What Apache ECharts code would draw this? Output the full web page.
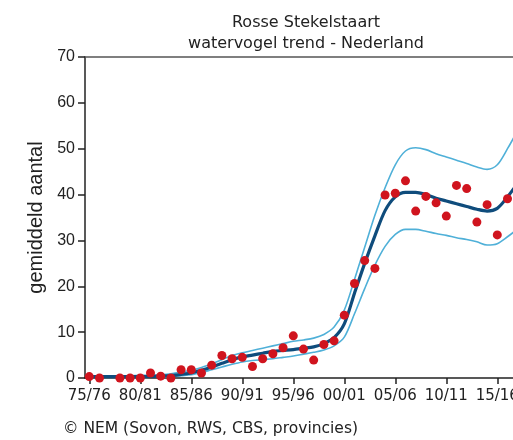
<!DOCTYPE html>
<html>
<head>
<meta charset="utf-8">
<script src="https://cdn.jsdelivr.net/npm/echarts@6/dist/echarts.min.js"></script>
<style>html,body{margin:0;padding:0;background:#fff}#c{width:513px;height:440px}</style>
</head>
<body>
<div id="c"></div>
<script>
// season index 0 = 75/76
const seasonStart = 1975;
const tickLabels = ["75/76","80/81","85/86","90/91","95/96","00/01","05/06","10/11","15/16"];
const tickIndex = [0,5,10,15,20,25,30,35,40];
const observed = [0.3,0,null,0,0,0,1.1,0.4,0,1.8,1.8,1.1,2.8,4.9,4.2,4.5,2.5,4.2,5.3,6.6,9.2,6.3,3.9,7.3,8.1,13.7,20.6,25.6,23.9,39.9,40.3,43.0,36.4,39.6,38.2,35.3,42.0,41.3,34.0,37.8,31.2,39.1];
const trend = [0.3,0.3,0.3,0.3,0.3,0.3,0.35,0.4,0.5,0.8,1.1,1.7,2.4,3.2,4.0,4.6,5.0,5.4,5.8,6.0,6.2,6.5,6.8,7.5,8.8,11.8,18.5,25.0,31.0,36.5,39.5,40.5,40.5,40.0,39.2,38.6,38.0,37.4,36.8,36.4,37.0,39.5,42.5];
const upper = [0.5,0.5,0.5,0.5,0.5,0.6,0.6,0.7,0.9,1.3,1.7,2.3,3.1,4.0,4.9,5.5,6.0,6.5,7.0,7.5,8.0,8.3,8.7,9.5,11.1,14.8,21.5,28.5,35.5,41.5,46.5,49.5,50.2,49.8,48.9,48.2,47.5,46.8,46.0,45.5,46.5,50.0,54.0];
const lower = [0.1,0.1,0.1,0.1,0.1,0.1,0.15,0.2,0.3,0.5,0.7,1.2,1.8,2.4,3.0,3.5,3.8,4.0,4.2,4.5,4.8,5.2,5.6,6.1,7.0,8.9,14.0,19.5,24.6,28.7,31.3,32.4,32.4,32.0,31.5,31.1,30.6,30.2,29.7,29.0,29.3,30.8,32.5];

const toXY = arr => arr.map((v,i) => [i, v]);
const pts = observed.map((v,i) => v === null ? null : [i, v]).filter(p => p);

const chart = echarts.init(document.getElementById('c'), null, {renderer:'canvas'});
const txt = '#222';
chart.setOption({
  animation:false,
  title:[
    {text:'Rosse Stekelstaart', left:301, top:10, textAlign:'center',
     textStyle:{fontFamily:'DejaVu Sans', fontSize:16, fontWeight:'normal', color:txt}},
    {text:'watervogel trend - Nederland', left:301, top:31, textAlign:'center',
     textStyle:{fontFamily:'DejaVu Sans', fontSize:16, fontWeight:'normal', color:txt}}
  ],
  grid:{left:85, right:0, top:57, bottom:62, outerBoundsMode:'none', containLabel:false},
  xAxis:[{
    type:'value', min:-0.42, max:41.54,
    splitLine:{show:false},
    axisLine:{onZero:false, lineStyle:{color:'#222', width:1.5}},
    axisTick:{show:true, length:6, lineStyle:{color:'#222', width:1.5}, customValues:tickIndex},
    axisLabel:{customValues:tickIndex, margin:11, fontFamily:'DejaVu Sans', fontSize:15, color:txt, hideOverlap:false,
      formatter: v => tickLabels[tickIndex.indexOf(Math.round(v))] || ''}
  },{
    type:'value', position:'top', min:-0.42, max:41.54,
    axisLine:{show:true, onZero:false, lineStyle:{color:'#555', width:1.5}},
    axisTick:{show:false}, axisLabel:{show:false}, splitLine:{show:false}
  }],
  yAxis:{
    type:'value', min:0, max:70, interval:10,
    name:'gemiddeld aantal', nameLocation:'middle', nameGap:38,
    nameTextStyle:{fontFamily:'Liberation Sans', fontSize:20, color:txt},
    splitLine:{show:false},
    axisLine:{show:true, onZero:false, lineStyle:{color:'#222', width:1.5}},
    axisTick:{show:true, length:7, lineStyle:{color:'#222', width:1.5}},
    axisLabel:{margin:10, fontFamily:'Liberation Sans', fontSize:16, color:txt}
  },
  series:[
    {type:'line', data:toXY(upper), smooth:0.3, symbol:'none', lineStyle:{color:'#4fb0d8', width:1.6}, z:2},
    {type:'line', data:toXY(lower), smooth:0.3, symbol:'none', lineStyle:{color:'#4fb0d8', width:1.6}, z:2},
    {type:'line', data:toXY(trend), smooth:0.3, symbol:'none', lineStyle:{color:'#0f4c7c', width:3.2}, z:3},
    {type:'scatter', data:pts, symbol:'circle', symbolSize:9, itemStyle:{color:'#d0141e', opacity:1}, z:4}
  ],
  graphic:[{type:'text', left:63, top:421, style:{text:'© NEM (Sovon, RWS, CBS, provincies)', font:'15.5px "DejaVu Sans"', fill:txt}}]
});
</script>
</body>
</html>
